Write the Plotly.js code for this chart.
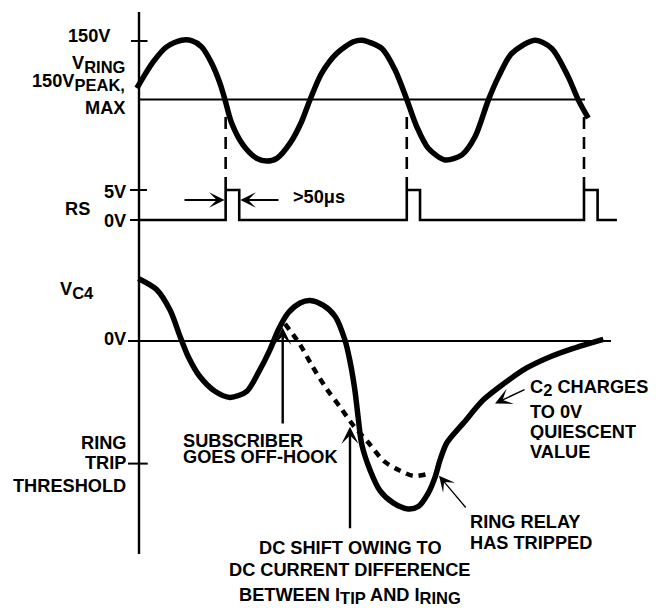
<!DOCTYPE html>
<html>
<head>
<meta charset="utf-8">
<script src="https://cdn.plot.ly/plotly-3.0.1.min.js"></script>
<style>html,body{margin:0;padding:0;background:#fff;}#chart{width:665px;height:608px;}</style>
</head>
<body>
<div id="chart"></div>
<script>
// ---- DATA (time in ms) ----
// Ringing voltage V_RING (volts)
const ringT = [-0.6, 4.0, 7.7, 11.9, 14.7, 17.5, 20.3, 22.6, 24.0, 25.9, 29.1, 32.9, 35.7, 38.5, 42.2, 45.4, 47.8, 51.0, 55.2, 59.9, 62.3, 67.8, 71.5, 74.8, 77.6, 80.8, 85.5, 90.2, 93.9, 97.6, 100.4, 104.1, 110.6, 115.3, 119.9, 122.7, 125.5];
const ringV = [29, 97, 135, 152, 151, 135, 93, 42, 0, -61, -117, -151, -158, -151, -112, -57, 0, 67, 118, 148, 152, 131, 76, 0, -70, -125, -155, -142, -95, -1, 58, 118, 152, 131, 58, -1, -48];
// RS output (volts)
const rsT = [0, 24.2, 24.2, 28.0, 28.0, 74.8, 74.8, 78.5, 78.5, 124.3, 124.3, 128.1, 128.1, 133.5];
const rsV = [0, 0, 5, 5, 0, 0, 5, 5, 0, 0, 5, 5, 0, 0];
// V_C4 (arbitrary volts, ring-trip threshold = -10)
const vc4T = [-0.2, 4.9, 8.7, 11.5, 13.8, 17.0, 21.2, 25.4, 30.1, 33.3, 36.6, 38.9, 41.7, 45.0, 47.8, 51.5, 54.8, 57.5, 58.9, 60.3, 61.2, 62.2, 64.5, 67.3, 71.0, 75.2, 78.0, 80.8, 82.7, 84.1, 86.0, 90.6, 96.2, 101.8, 108.3, 113.9, 121.3, 129.7];
const vc4V = [5.1, 4.2, 2.5, 0.35, -1.3, -2.9, -4.1, -4.6, -4.1, -2.6, -0.7, 0.9, 2.3, 3.1, 3.3, 2.9, 2.0, 0.1, -1.6, -4.0, -6.2, -8.4, -10.5, -12.2, -13.2, -13.7, -13.5, -12.4, -11.1, -9.7, -8.3, -6.7, -4.8, -3.5, -2.2, -1.4, -0.6, 0.14];
// V_C4 without the DC shift (dashed)
const vc4dT = [40.8, 45.0, 48.5, 52.4, 56.2, 59.9, 64.1, 68.4, 72.4, 76.6, 81.3];
const vc4dV = [1.4, -0.3, -2.1, -3.9, -5.4, -6.9, -8.3, -9.8, -10.5, -11.0, -10.8];
const ringPeak = 150, rsHigh = 5, tripLevel = -10;

// ---- LAYOUT GEOMETRY ----
const W = 665, H = 608;
const X0PX = 139, XS = 3.58;              // axis position (px) and px per ms
const t = p => (p - X0PX) / XS;            // px -> ms (layout only)
const PX = p => p / W, PY = p => 1 - p / H;
function yax(zeroPx, pxPerUnit, topPx, botPx) {
  return {domain: [1 - botPx / H, 1 - topPx / H],
          range: [(zeroPx - botPx) / pxPerUnit, (zeroPx - topPx) / pxPerUnit],
          visible: false, fixedrange: true, anchor: 'x'};
}
const FONT = {family: 'Liberation Sans, Arial, Helvetica, sans-serif', size: 18.2, color: '#000'};
const black = '#000';
const sub = s => '<sub><span style="font-size:16.5px">' + s + '</span></sub>';

const traces = [
  {x: ringT, y: ringV, xaxis: 'x', yaxis: 'y', mode: 'lines', line: {color: black, width: 5.5, shape: 'spline', smoothing: 0.8}},
  {x: rsT, y: rsV, xaxis: 'x', yaxis: 'y2', mode: 'lines', line: {color: black, width: 2.6}},
  {x: vc4T, y: vc4V, xaxis: 'x', yaxis: 'y3', mode: 'lines', line: {color: black, width: 5.5, shape: 'spline', smoothing: 0.8}},
  {x: vc4dT, y: vc4dV, xaxis: 'x', yaxis: 'y3', mode: 'lines', line: {color: black, width: 4.5, dash: '7px,6px', shape: 'spline', smoothing: 0.8}}
];

const shapes = [];
function seg(xref, yref, x0, y0, x1, y1, w, dash) {
  shapes.push({type: 'line', xref, yref, x0, y0, x1, y1, line: {color: black, width: w, dash: dash || 'solid'}, layer: 'below'});
}
seg('x', 'paper', 0, PY(554), 0, PY(12), 2.4);            // vertical axis
seg('x', 'y', t(131), ringPeak, t(147.5), ringPeak, 2);   // 150V tick
seg('x', 'y', 0, 0, t(585), 0, 2);                         // ring midline
seg('x', 'y2', t(130), rsHigh, t(147), rsHigh, 2);         // 5V tick
seg('x', 'y2', t(130), 0, 0, 0, 2);                        // 0V tick (RS)
seg('x', 'y3', t(128), 0, t(611), 0, 2);                   // VC4 0V line
seg('x', 'y3', t(128), tripLevel, t(147.7), tripLevel, 2); // ring trip tick
[rsT[1], rsT[5], rsT[9]].forEach(x => seg('x', 'paper', x, PY(117), x, PY(189), 2.6, '12px,8px'));

const ann = [];
function txt(text, xp, yp, xa, h) {
  const a = {text: '<b>' + text + '</b>', xref: 'paper', yref: 'paper', x: PX(xp), y: PY(yp),
            xanchor: xa, yanchor: 'middle', showarrow: false, font: FONT, borderpad: 0};
  if (h) a.height = h;
  ann.push(a);
}
function arrow(yref, tx0, ty0, tx1, ty1, w, size) {
  ann.push({text: '', xref: 'x', yref, x: tx1, y: ty1, axref: 'x', ayref: yref, ax: tx0, ay: ty0,
            showarrow: true, arrowhead: 3, arrowwidth: w, arrowsize: size, arrowcolor: black, standoff: 0, startstandoff: 0});
}
txt('150V', 111, 36, 'right');
txt('V' + sub('RING'), 126, 64, 'right');
txt('150V' + sub('PEAK,'), 126, 82, 'right');
txt('MAX', 126, 107.5, 'right');
txt('5V', 127, 191.5, 'right');
txt('RS', 91, 209, 'right');
txt('0V', 127, 221.5, 'right');
txt('V' + sub('C4'), 59, 290, 'left');
txt('0V', 127, 339, 'right');
txt('RING', 127, 442.7, 'right', 18);
txt('TRIP', 127, 463.3, 'right', 18);
txt('THRESHOLD', 127, 486, 'right', 18);
txt('>50\u03bcs', 292, 197, 'left');
txt('SUBSCRIBER', 182, 440, 'left', 15);
txt('GOES OFF-HOOK', 182, 456.7, 'left', 15);
txt('DC SHIFT OWING TO', 350, 548.3, 'center', 18);
txt('DC CURRENT DIFFERENCE', 350, 570, 'center', 18);
txt('BETWEEN I' + sub('TIP') + ' AND I' + sub('RING'), 350, 596, 'center', 20);
txt('RING RELAY', 469, 521.7, 'left', 18);
txt('HAS TRIPPED', 469, 543.3, 'left', 18);
txt('C' + sub('2') + ' CHARGES', 529, 388, 'left', 20);
txt('TO 0V', 529, 411.7, 'left', 16);
txt('QUIESCENT', 529, 431.7, 'left', 16);
txt('VALUE', 529, 451.7, 'left', 16);

arrow('y2', t(183), 3.33, rsT[1] - 0.3, 3.33, 2, 1.3);
arrow('y2', t(280), 3.33, rsT[3] + 0.3, 3.33, 2, 1.3);
arrow('y3', t(282.7), -6.85, t(282.7), 1.1, 2.4, 1.2);
arrow('y3', t(350), -15.4, t(350), -7.0, 2.4, 1.2);
arrow('y3', t(467), -13.7, t(439), -11.0, 1.3, 2);
arrow('y3', t(526), -3.9, t(495), -5.1, 1.4, 2);

const layout = {
  width: W, height: H, margin: {l: 0, r: 0, t: 0, b: 0},
  paper_bgcolor: '#fff', plot_bgcolor: '#fff', showlegend: false,
  xaxis: {range: [t(0), t(W)], visible: false, fixedrange: true},
  yaxis: yax(99.5, 58.5 / ringPeak, 0, 181),
  yaxis2: yax(220, 30 / rsHigh, 181, 236),
  yaxis3: yax(341, 122.6 / -tripLevel, 236, 608),
  shapes, annotations: ann, font: FONT
};
Plotly.newPlot('chart', traces, layout, {staticPlot: true, displayModeBar: false});
</script>
</body>
</html>
